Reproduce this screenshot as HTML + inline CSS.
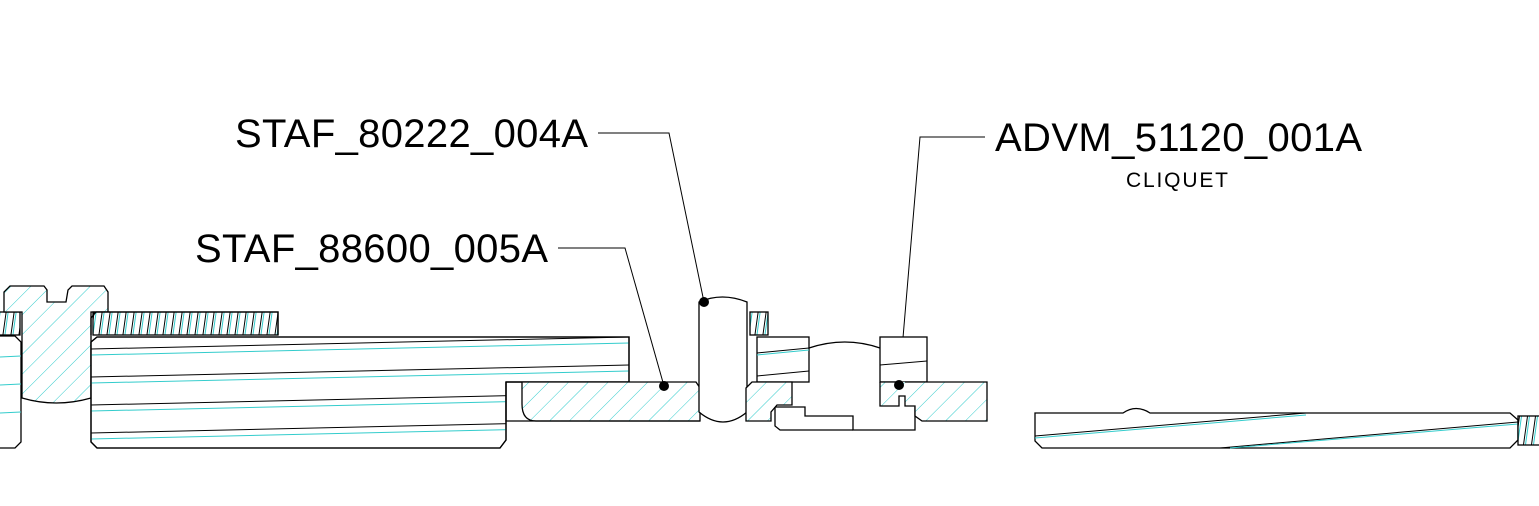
<!DOCTYPE html>
<html><head><meta charset="utf-8"><style>html,body{margin:0;padding:0;background:#fff;width:1539px;height:506px;overflow:hidden}</style></head>
<body>
<svg width="1539" height="506" viewBox="0 0 1539 506" xmlns="http://www.w3.org/2000/svg" font-family="Liberation Sans, Arial, sans-serif">
<defs>
<pattern id="h" width="14" height="14" patternUnits="userSpaceOnUse" patternTransform="rotate(45)">
<rect width="14" height="14" fill="#fff"/><line x1="0" y1="0" x2="0" y2="14" stroke="#3cc" stroke-width="1"/>
</pattern>
<pattern id="k" width="8" height="24" patternUnits="userSpaceOnUse" patternTransform="skewX(-8)">
<rect width="8" height="24" fill="#fff"/><line x1="2" y1="0" x2="2" y2="24" stroke="#000" stroke-width="1"/><line x1="4" y1="0" x2="4" y2="24" stroke="#3cc" stroke-width="1"/>
</pattern>
<clipPath id="body"><path d="M91 342 L97 337 H629 V382 H506 V440 L500 448 H97 L91 442 Z"/></clipPath>
</defs>
<g fill="none" stroke="#000" stroke-width="1.3">
<text x="235" y="147" font-size="40" fill="#000" stroke="none" textLength="353">STAF_80222_004A</text>
<text x="195" y="262" font-size="40" fill="#000" stroke="none" textLength="353">STAF_88600_005A</text>
<text x="995" y="151" font-size="40" fill="#000" stroke="none" textLength="367">ADVM_51120_001A</text>
<text x="1126" y="187" font-size="21" fill="#000" stroke="none" textLength="102">CLIQUET</text>
<polyline points="598,133 669,133 704,302" stroke-width="1"/>
<polyline points="558,248 625,248 664,386" stroke-width="1"/>
<polyline points="985,137 920,137 899,385" stroke-width="1"/>

<rect x="-2" y="312" width="22" height="23" fill="url(#k)"/>
<path d="M0 336 H15 L21 342 V442 L15 448 H0"/>
<g stroke="#3cc" stroke-width="1"><line x1="0" y1="357" x2="21" y2="356"/><line x1="0" y1="385" x2="21" y2="384"/><line x1="0" y1="413" x2="21" y2="412"/></g>

<path d="M4 312 V292 L10 286 H44 L47 290 V302 H66 L68 290 L72 286 H104 L108 292 V312 H91 V398 Q56 408 22 398 V312 Z" fill="url(#h)"/>
<rect x="93" y="312" width="185" height="23" fill="url(#k)"/>
<path d="M96 312 H278 V335 M96 312 L91 318 V335"/>

<path d="M91 342 L97 337 H629 V382 H506 V440 L500 448 H97 L91 442 Z" fill="#fff"/>
<g clip-path="url(#body)">
<g stroke-width="1">
<line x1="91" y1="349" x2="629" y2="337"/><line x1="91" y1="377" x2="629" y2="365"/><line x1="91" y1="405" x2="629" y2="393"/><line x1="91" y1="433" x2="629" y2="421"/><line x1="91" y1="461" x2="629" y2="449"/>
</g>
<g stroke="#3cc" stroke-width="1">
<line x1="91" y1="355" x2="629" y2="343"/><line x1="91" y1="383" x2="629" y2="371"/><line x1="91" y1="411" x2="629" y2="399"/><line x1="91" y1="439" x2="629" y2="427"/><line x1="91" y1="467" x2="629" y2="455"/>
</g>
</g>
<path d="M91 342 L97 337 H629 V382 H506 V440 L500 448 H97 L91 442 Z"/>

<path d="M506 382 H696 L700 388 V421 H536 Q522 421 522 404 V382" fill="url(#h)"/>
<path d="M506 382 V421 H700"/>
<path d="M699 302 Q722 292 747 302 V412 Q723 432 699 412 Z" fill="#fff"/>
<rect x="750" y="312" width="18" height="23" fill="url(#k)"/>
<rect x="757" y="337" width="52" height="45" fill="#fff"/>
<line x1="757" y1="353" x2="809" y2="348" stroke-width="1"/><line x1="757" y1="376" x2="809" y2="371" stroke-width="1"/>
<line x1="757" y1="355" x2="809" y2="350" stroke="#3cc" stroke-width="1"/>
<path d="M809 348 Q845 336 880 348"/>
<path d="M746 388 L752 382 H792 V405 H777 L771 412 V421 H746 Z" fill="url(#h)"/>
<path d="M775 407 H805 V416 H853 V430 H915 V407"/>
<path d="M775 407 V426 L780 430 H853"/>
<rect x="880" y="337" width="47" height="45" fill="#fff"/>
<line x1="880" y1="365" x2="927" y2="361" stroke-width="1"/>
<path d="M880 382 V406 H899 V396 H905 V406 H915 V416 L922 421 H987 V382 H905 M880 382 H899" fill="url(#h)"/>
<circle cx="704" cy="302" r="5" fill="#000" stroke="none"/>
<circle cx="664" cy="386" r="5" fill="#000" stroke="none"/>
<circle cx="899" cy="385" r="5" fill="#000" stroke="none"/>

<path d="M1035 413 H1123 Q1136 404 1150 413 H1510 L1518 420 V440 L1510 448 H1042 L1035 441 Z" fill="#fff"/>
<line x1="1035" y1="436" x2="1306" y2="413" stroke-width="1"/>
<line x1="1220" y1="448" x2="1518" y2="422" stroke-width="1"/>
<line x1="1035" y1="438" x2="1306" y2="415" stroke="#3cc" stroke-width="1"/>
<line x1="1230" y1="448" x2="1518" y2="424" stroke="#3cc" stroke-width="1"/>
<rect x="1518" y="416" width="24" height="29" fill="url(#k)"/>
</g>
</svg>
</body></html>
